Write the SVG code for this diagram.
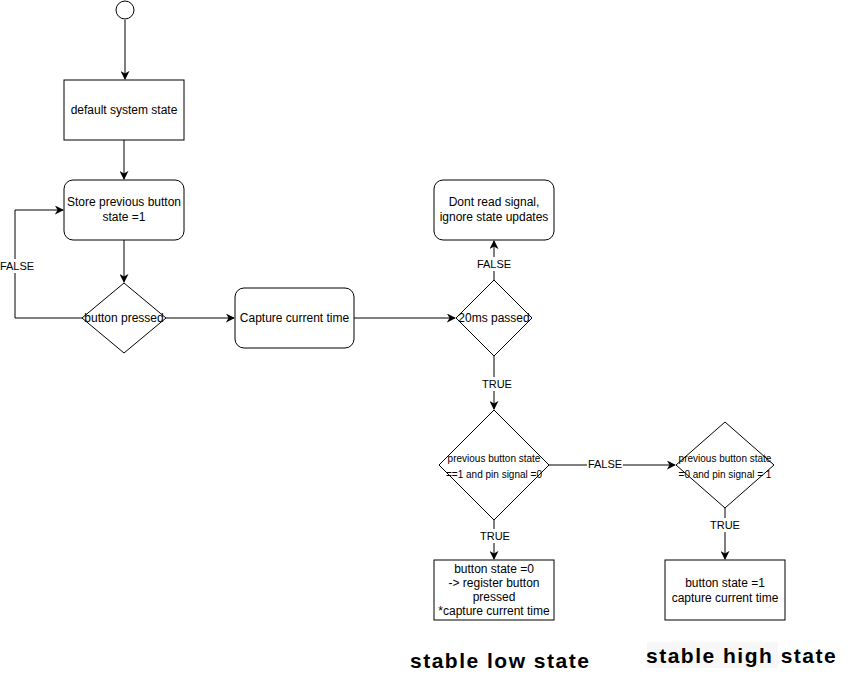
<svg xmlns="http://www.w3.org/2000/svg" width="855" height="686" viewBox="0 0 855 686">
<style>
.n{fill:#fff;stroke:#000;stroke-width:1}
.t{font-family:"Liberation Sans",Arial,sans-serif;font-size:12px;fill:#000;text-anchor:middle}
.s{font-family:"Liberation Sans",Arial,sans-serif;font-size:10px;fill:#000;text-anchor:middle}
.l{font-family:"Liberation Sans",Arial,sans-serif;font-size:11px;fill:#000;text-anchor:middle}
.b{font-family:"Liberation Sans",Arial,sans-serif;font-size:21px;font-weight:bold;letter-spacing:1.5px;fill:#000}
.e{fill:none;stroke:#000;stroke-width:1}
.lb{fill:#fff}
</style>
<defs>
<marker id="a" viewBox="0 0 10 10" refX="9" refY="5" markerWidth="9" markerHeight="9" markerUnits="userSpaceOnUse" orient="auto">
<path d="M0,0 L10,5 L0,10 L3,5 Z" fill="#000"/>
</marker>
</defs>
<rect width="855" height="686" fill="#fff"/>
<g id="edges">
<path class="e" d="M125,20 V79" marker-end="url(#a)"/>
<path class="e" d="M124,140 V179" marker-end="url(#a)"/>
<path class="e" d="M124,240 V282" marker-end="url(#a)"/>
<path class="e" d="M82,318 H15 V210 H63" marker-end="url(#a)"/>
<rect class="lb" x="0" y="259" width="36" height="14"/>
<text class="l" x="17" y="270">FALSE</text>
<path class="e" d="M166,318 H234" marker-end="url(#a)"/>
<path class="e" d="M354,318 H455" marker-end="url(#a)"/>
<path class="e" d="M494,280 V241" marker-end="url(#a)"/>
<rect class="lb" x="476" y="257" width="36" height="14"/>
<text class="l" x="494" y="268">FALSE</text>
<path class="e" d="M494,356 V409" marker-end="url(#a)"/>
<rect class="lb" x="479" y="377" width="34" height="14"/>
<text class="l" x="497" y="388">TRUE</text>
<path class="e" d="M494,520 V559" marker-end="url(#a)"/>
<rect class="lb" x="478" y="529" width="34" height="14"/>
<text class="l" x="495" y="540">TRUE</text>
<path class="e" d="M549,465 H675" marker-end="url(#a)"/>
<rect class="lb" x="587" y="457" width="36" height="14"/>
<text class="l" x="605" y="468">FALSE</text>
<path class="e" d="M725,508 V559" marker-end="url(#a)"/>
<rect class="lb" x="708" y="518" width="34" height="14"/>
<text class="l" x="725" y="529">TRUE</text>
</g>
<g id="start"><circle class="n" cx="125" cy="10" r="9"/></g>
<g id="default"><rect class="n" x="64" y="80" width="120" height="60"/><text class="t" x="124" y="114">default system state</text></g>
<g id="store"><rect class="n" x="64" y="180" width="120" height="60" rx="9"/><text class="t" x="124" y="206">Store previous button</text><text class="t" x="124" y="221">state =1</text></g>
<g id="pressed"><path class="n" d="M124,283 L166,318 L124,353 L82,318 Z"/><text class="t" x="124" y="322">button pressed</text></g>
<g id="capture"><rect class="n" x="235" y="288" width="119" height="60" rx="9"/><text class="t" x="294.5" y="322">Capture current time</text></g>
<g id="ms20"><path class="n" d="M494,280 L532,318 L494,356 L456,318 Z"/><text class="t" x="494" y="322">20ms passed</text></g>
<g id="dontread"><rect class="n" x="434" y="180" width="120" height="60" rx="9"/><text class="t" x="494" y="206">Dont read signal,</text><text class="t" x="494" y="221">ignore state updates</text></g>
<g id="cond1"><path class="n" d="M494,410 L549,465 L494,520 L439,465 Z"/><text class="s" x="494" y="462">previous button state</text><text class="s" x="494" y="478">==1 and pin signal =0</text></g>
<g id="low"><rect class="n" x="434" y="560" width="120" height="60"/><text class="t" x="494" y="573">button state =0</text><text class="t" x="494" y="587">-&gt; register button</text><text class="t" x="494" y="601">pressed</text><text class="t" x="494" y="615">*capture current time</text></g>
<g id="cond2"><path class="n" d="M725,422 L774,465 L725,508 L676,465 Z"/><text class="s" x="725" y="462">previous button state</text><text class="s" x="725" y="478">=0 and pin signal = 1</text></g>
<g id="high"><rect class="n" x="665" y="560" width="120" height="60"/><text class="t" x="725" y="587">button state =1</text><text class="t" x="725" y="602">capture current time</text></g>
<g id="captions">
<rect x="647" y="642" width="131" height="26" fill="#f7f7f7"/>
<text class="b" x="410" y="668">stable low state</text>
<text class="b" x="646" y="663">stable high state</text>
</g>
</svg>
